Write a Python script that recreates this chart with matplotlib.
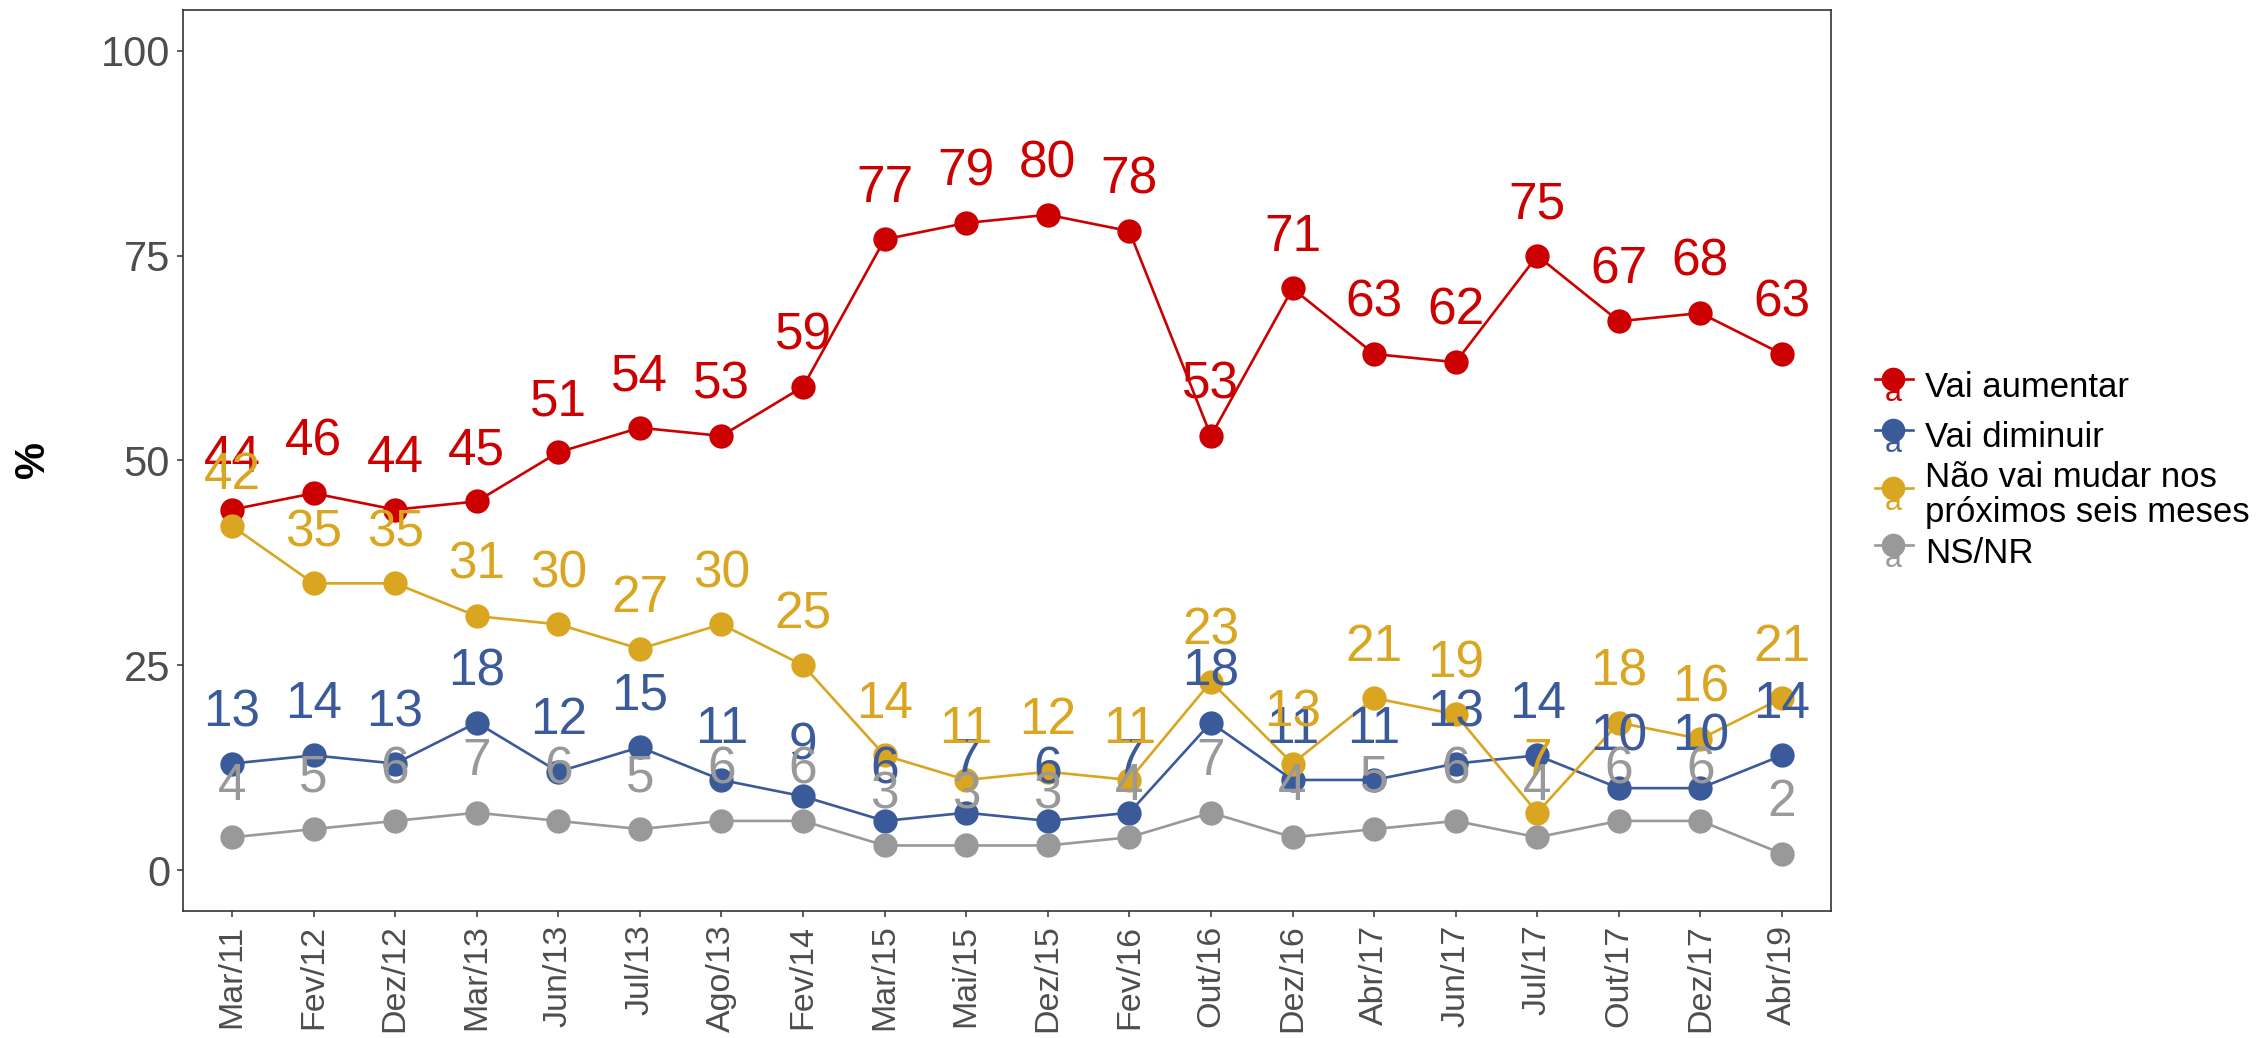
import matplotlib
matplotlib.use("Agg")
import matplotlib.pyplot as plt
from matplotlib.lines import Line2D

plt.rcParams['font.family'] = ['Liberation Sans', 'DejaVu Sans']

categories = ["Mar/11", "Fev/12", "Dez/12", "Mar/13", "Jun/13", "Jul/13", "Ago/13",
              "Fev/14", "Mar/15", "Mai/15", "Dez/15", "Fev/16", "Out/16", "Dez/16",
              "Abr/17", "Jun/17", "Jul/17", "Out/17", "Dez/17", "Abr/19"]

vai_aumentar = [44, 46, 44, 45, 51, 54, 53, 59, 77, 79, 80, 78, 53, 71, 63, 62, 75, 67, 68, 63]
vai_diminuir = [13, 14, 13, 18, 12, 15, 11, 9, 6, 7, 6, 7, 18, 11, 11, 13, 14, 10, 10, 14]
nao_vai_mudar = [42, 35, 35, 31, 30, 27, 30, 25, 14, 11, 12, 11, 23, 13, 21, 19, 7, 18, 16, 21]
ns_nr = [4, 5, 6, 7, 6, 5, 6, 6, 3, 3, 3, 4, 7, 4, 5, 6, 4, 6, 6, 2]

series_names = ["Vai aumentar", "Vai diminuir", "Não vai mudar nos\npróximos seis meses", "NS/NR"]
series_values = [vai_aumentar, vai_diminuir, nao_vai_mudar, ns_nr]
colors = ["#CC0000", "#3B5A9A", "#DAA520", "#999999"]

W, H = 2261, 1038
fig = plt.figure(figsize=(W / 100, H / 100), dpi=100)
ax = fig.add_axes([183 / W, 1 - 911 / H, (1831 - 183) / W, (911 - 10) / H])

x = list(range(len(categories)))

# lines
for vals, c in zip(series_values, colors):
    ax.plot(x, vals, color=c, lw=1.9, zorder=2, solid_capstyle='butt')
# points
for vals, c in zip(series_values, colors):
    ax.plot(x, vals, linestyle='none', marker='o', markersize=17.5, color=c,
            markeredgewidth=0, zorder=3)
# labels
label_dy = 4.55
for vals, c in zip(series_values, colors):
    for xi, v in zip(x, vals):
        ax.text(xi, v + label_dy, str(v), color=c, fontsize=37, ha='center',
                va='baseline', zorder=4)

ax.set_xlim(-0.6, len(categories) - 1 + 0.6)
ax.set_ylim(-5, 105)
ax.set_yticks([0, 25, 50, 75, 100])
ax.set_xticks(x)
ax.set_xticklabels(categories, rotation=90, ha='center', va='top')
ax.tick_params(axis='y', labelsize=30, colors='#333333', labelcolor='#4D4D4D',
               length=4.3, width=1.1, pad=5)
ax.tick_params(axis='x', labelsize=24.5, colors='#333333', labelcolor='#4D4D4D',
               length=4.3, width=1.1, pad=5.5)
for s in ax.spines.values():
    s.set_color('#333333')
    s.set_linewidth(1.2)
ax.set_facecolor('white')

fig.text(33 / W, 1 - 460 / H, "%", rotation=90, fontsize=30, fontweight='bold',
         ha='center', va='center', color='black')

# legend (manual)
key_x0, key_x1, key_xc = 1875, 1913, 1893
text_x = 1925
marker_y = [379, 430, 488, 545]
text_baselines = [[397], [447], [487, 522], [563]]
for name, c, my, bls in zip(series_names, colors, marker_y, text_baselines):
    fy = 1 - my / H
    fig.text(key_xc / W, 1 - (my + 22) / H, "a", color=c, fontsize=22,
             ha='center', va='baseline', zorder=1)
    fig.add_artist(Line2D([key_x0 / W, key_x1 / W], [fy, fy], color=c, lw=1.9,
                          transform=fig.transFigure, zorder=2))
    fig.add_artist(Line2D([key_xc / W], [fy], color=c, marker='o', markersize=17,
                          markeredgewidth=0, linestyle='none',
                          transform=fig.transFigure, zorder=3))
    for line, bl in zip(name.split("\n"), bls):
        fig.text(text_x / W, 1 - bl / H, line, fontsize=25, color='black',
                 ha='left', va='baseline')

fig.savefig("out.png", dpi=100, facecolor='white')
